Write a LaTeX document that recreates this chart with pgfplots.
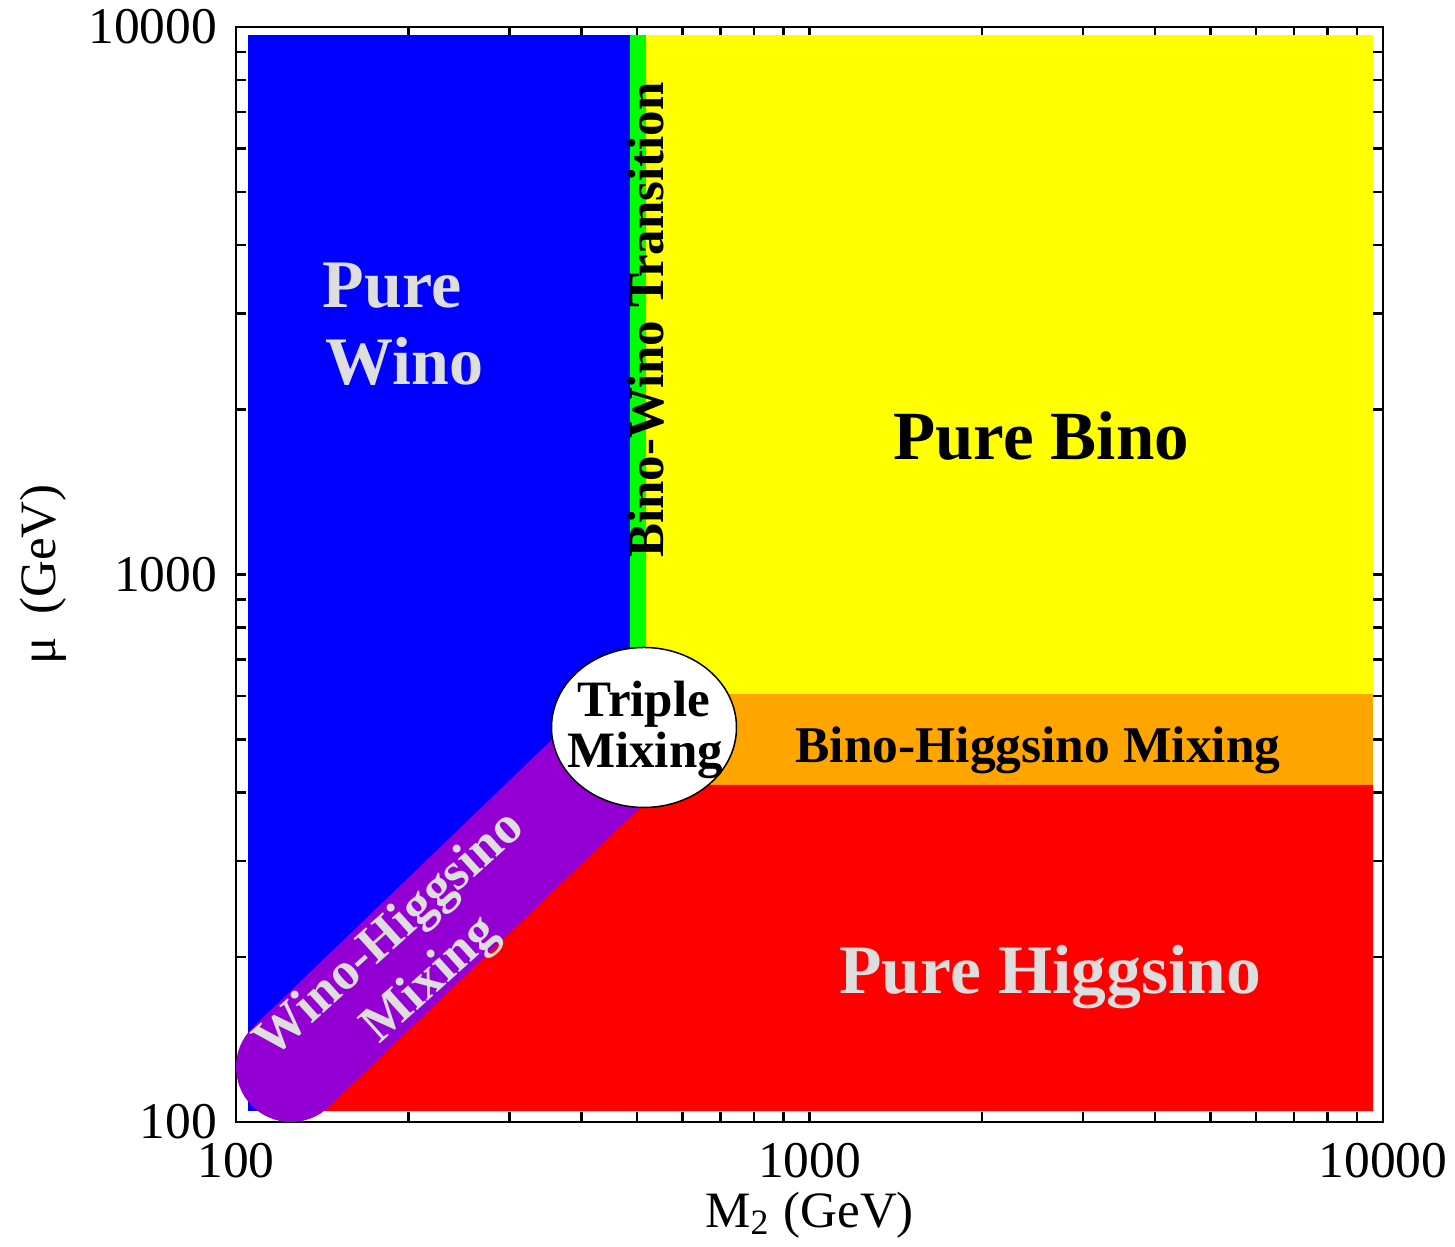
\documentclass[border=0pt]{standalone}
\usepackage{fontspec}
\setmainfont{Liberation Serif}
\usepackage{pgfplots}
\usetikzlibrary{shapes.geometric}
\pgfplotsset{compat=1.18}
\definecolor{cBlue}{RGB}{0,0,255}
\definecolor{cGreen}{RGB}{0,255,0}
\definecolor{cYellow}{RGB}{255,255,0}
\definecolor{cOrange}{RGB}{255,165,0}
\definecolor{cRed}{RGB}{255,0,0}
\definecolor{cPurple}{RGB}{148,0,211}
\definecolor{cGray}{RGB}{222,222,222}
\begin{document}
\begin{tikzpicture}
\begin{axis}[
  scale only axis, width=229.4pt, height=219pt,
  xmode=log, ymode=log,
  xmin=100, xmax=10000, ymin=100, ymax=10000,
  xtick={100,1000,10000}, xticklabels={100,1000,10000},
  ytick={100,1000,10000}, yticklabels={100,1000,10000},
  minor xtick={200,300,400,500,600,700,800,900,2000,3000,4000,5000,6000,7000,8000,9000},
  minor ytick={200,300,400,500,600,700,800,900,2000,3000,4000,5000,6000,7000,8000,9000},
  tick align=inside, major tick length=2pt, minor tick length=2pt,
  every tick/.style={black, line width=0.5pt},
  axis line style={line width=0.55pt, black},
  /pgf/number format/assume math mode=true,
  tick label style={font=\fontsize{10.3}{12}\selectfont},
  x tick label style={anchor=base, inner sep=0pt, yshift=-11pt},
  y tick label style={anchor=east, inner sep=0pt, xshift=-3.6pt},
  xlabel={M\textsubscript{2} (GeV)},
  ylabel={μ\hspace{0.45em}(GeV)},
  label style={font=\fontsize{10.2}{12}\selectfont},
  xlabel style={at={(axis description cs:0.5,0)}, anchor=base, yshift=-21pt},
  ylabel style={at={(axis description cs:0,0.5)}, anchor=base, yshift=36.2pt},
]
% Pure Wino (blue)
\addplot[fill=cBlue, draw=none] coordinates {(104.9,104.7) (487,104.7) (487,9670) (104.9,9670)} --cycle;
% Bino-Wino transition (green)
\addplot[fill=cGreen, draw=none] coordinates {(487,560) (518,560) (518,9670) (487,9670)} --cycle;
% Pure Bino (yellow)
\addplot[fill=cYellow, draw=none] coordinates {(518,605) (9607,605) (9607,9670) (518,9670)} --cycle;
% Bino-Higgsino mixing (orange)
\addplot[fill=cOrange, draw=none] coordinates {(530,412.7) (9607,412.7) (9607,605) (530,605)} --cycle;
% Pure Higgsino (red)
\addplot[fill=cRed, draw=none] coordinates {(139,104.7) (9607,104.7) (9607,412.7) (548.8,412.7)} --cycle;
% Wino-Higgsino mixing band (purple)
\addplot[draw=cPurple, line width=22pt, line cap=round] coordinates {(124.7,126.0) (514.5,525.5)};
% Triple mixing
\node[ellipse, draw=black, line width=0.3pt, fill=white, minimum width=37pt, minimum height=32pt, inner sep=0pt] at (axis cs:514.5,525.5) {};
\node[anchor=base, inner sep=0pt, font=\bfseries\fontsize{10.2}{12}\selectfont] at (axis cs:514.5,549.3) {Triple};
\node[anchor=base, inner sep=0pt, font=\bfseries\fontsize{10.2}{12}\selectfont] at (axis cs:516.7,443.2) {Mixing};
% labels
\node[anchor=base west, inner sep=0pt, text=cGray, font=\bfseries\fontsize{13.6}{15}\selectfont] at (axis cs:141.2,3068) {Pure};
\node[anchor=base west, inner sep=0pt, text=cGray, font=\bfseries\fontsize{13.6}{15}\selectfont] at (axis cs:142.9,2219) {Wino};
\node[anchor=base, inner sep=0pt, font=\bfseries\fontsize{13.8}{15}\selectfont] at (axis cs:2533,1619) {Pure Bino};
\node[anchor=base, inner sep=0pt, font=\bfseries\fontsize{10.3}{12}\selectfont] at (axis cs:2502,452.6) {Bino-Higgsino Mixing};
\node[anchor=base, inner sep=0pt, text=cGray, font=\bfseries\fontsize{13.9}{15}\selectfont] at (axis cs:2627,172) {Pure Higgsino};
\node[rotate=90, anchor=base, inner sep=0pt, font=\bfseries\fontsize{10.2}{12}\selectfont] at (axis cs:555.4,2916) {Bino-Wino Transition};
\node[rotate=42, align=center, inner sep=0pt, text=cGray, font=\bfseries\fontsize{10.6}{12.2}\selectfont] at (axis cs:202,199) {Wino-Higgsino\\Mixing};
\end{axis}
\pgfresetboundingbox
\path[use as bounding box] (-47.2pt,-24.8pt) rectangle (243.8pt,224.4pt);
\end{tikzpicture}
\end{document}
